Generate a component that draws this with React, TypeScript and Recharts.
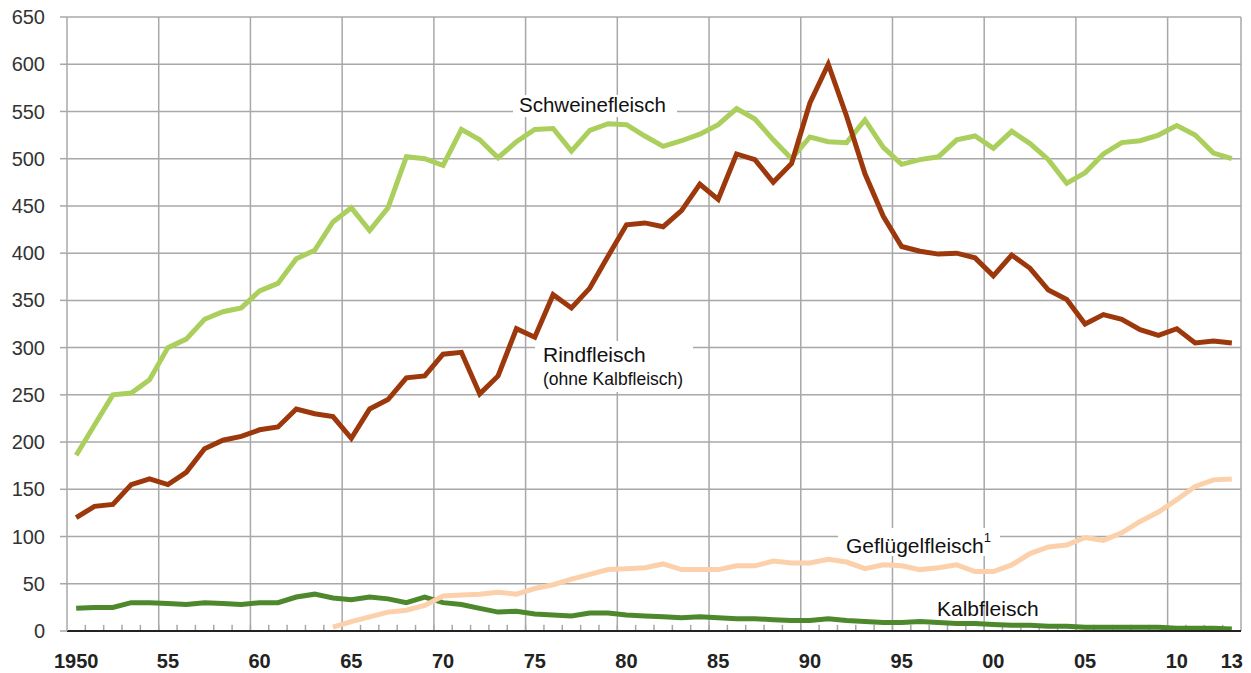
import { LineChart, Line, XAxis, YAxis, CartesianGrid, ReferenceLine } from 'recharts';

const years = [
  1950, 1951, 1952, 1953, 1954, 1955, 1956, 1957, 1958, 1959,
  1960, 1961, 1962, 1963, 1964, 1965, 1966, 1967, 1968, 1969,
  1970, 1971, 1972, 1973, 1974, 1975, 1976, 1977, 1978, 1979,
  1980, 1981, 1982, 1983, 1984, 1985, 1986, 1987, 1988, 1989,
  1990, 1991, 1992, 1993, 1994, 1995, 1996, 1997, 1998, 1999,
  2000, 2001, 2002, 2003, 2004, 2005, 2006, 2007, 2008, 2009,
  2010, 2011, 2012, 2013,
];

const schweinefleisch = [
  186, 218, 250, 252, 266, 300, 309, 330, 338, 342,
  360, 368, 394, 403, 433, 448, 424, 448, 502, 500,
  493, 531, 520, 501, 518, 531, 532, 508, 530, 537,
  536, 524, 513, 519, 526, 536, 553, 542, 520, 500,
  523, 518, 517, 541, 512, 494, 499, 502, 520, 524,
  511, 529, 516, 499, 474, 485, 505, 517, 519, 525,
  535, 525, 506, 500,
];

const rindfleisch = [
  120, 132, 134, 155, 161, 155, 168, 193, 202, 206,
  213, 216, 235, 230, 227, 204, 235, 245, 268, 270,
  293, 295, 251, 270, 320, 311, 356, 342, 363, 397,
  430, 432, 428, 445, 473, 457, 505, 499, 475, 495,
  559, 600, 545, 484, 439, 407, 402, 399, 400, 395,
  376, 398, 384, 361, 351, 325, 335, 330, 319, 313,
  320, 305, 307, 305,
];

const gefluegelfleisch = [
  null, null, null, null, null, null, null, null, null, null,
  null, null, null, null, 4, 10, 15, 20, 22, 27,
  37, 38, 39, 41, 39, 45, 49, 55, 60, 65,
  66, 67, 71, 65, 65, 65, 69, 69, 74, 72,
  72, 76, 73, 66, 70, 69, 65, 67, 70, 63,
  63, 70, 82, 89, 91, 99, 96, 104, 116, 126,
  139, 153, 160, 161,
];

const kalbfleisch = [
  24, 25, 25, 30, 30, 29, 28, 30, 29, 28,
  30, 30, 36, 39, 35, 33, 36, 34, 30, 36,
  30, 28, 24, 20, 21, 18, 17, 16, 19, 19,
  17, 16, 15, 14, 15, 14, 13, 13, 12, 11,
  11, 13, 11, 10, 9, 9, 10, 9, 8, 8,
  7, 6, 6, 5, 5, 4, 4, 4, 4, 4,
  3, 3, 3, 2,
];

const yTicks = [0, 50, 100, 150, 200, 250, 300, 350, 400, 450, 500, 550, 600, 650];
const xLabelTicks = [1950, 1955, 1960, 1965, 1970, 1975, 1980, 1985, 1990, 1995, 2000, 2005, 2010, 2013];
// senkrechte Gitterlinien liegen an den Jahresgrenzen
const gridEdges = [1954.5, 1959.5, 1964.5, 1969.5, 1974.5, 1979.5, 1984.5, 1989.5, 1994.5, 1999.5, 2004.5, 2009.5, 2013.5];
const yearEdges = years.slice(1).map((y) => y - 0.5);
const MINOR_TICK = 6.5; // Höhe der Jahresstriche in Achseneinheiten

const data = years.map((year, i) => ({
  year,
  schwein: schweinefleisch[i],
  rind: rindfleisch[i],
  gefluegel: gefluegelfleisch[i],
  kalb: kalbfleisch[i],
}));

const GRID = '#a8a8a8';
const FONT = '"Liberation Sans", Arial, Helvetica, sans-serif';

const fmtYear = (v: number) => (v === 1950 ? '1950' : String(v % 100).padStart(2, '0'));

export default function App() {
  return (
    <div style={{ position: 'absolute', left: 0, top: 0, width: 1251, height: 673, background: '#fff', fontFamily: FONT }}>
      <LineChart width={1251} height={673} data={data} margin={{ top: 17, right: 10, bottom: 0, left: 0 }}>
        <CartesianGrid vertical={false} stroke={GRID} strokeWidth={1.5} />
        <XAxis
          dataKey="year"
          type="number"
          domain={[1949.5, 2013.5]}
          ticks={xLabelTicks}
          interval={0}
          tickFormatter={fmtYear}
          height={42}
          tickLine={false}
          tickSize={0}
          tickMargin={23}
          axisLine={{ stroke: '#222', strokeWidth: 2 }}
          tick={{ fill: '#222', fontSize: 20, fontWeight: 'bold', fontFamily: FONT }}
        />
        <YAxis
          type="number"
          domain={[0, 650]}
          ticks={yTicks}
          interval={0}
          width={67}
          tickSize={7}
          tickMargin={15}
          axisLine={{ stroke: GRID, strokeWidth: 1.5 }}
          tickLine={{ stroke: GRID, strokeWidth: 1.5 }}
          tick={{ fill: '#333', fontSize: 20, fontFamily: FONT }}
        />
        {gridEdges.map((x) => (
          <ReferenceLine key={x} x={x} stroke={GRID} strokeWidth={1.5} />
        ))}
        {yearEdges.map((x) => (
          <ReferenceLine
            key={'m' + x}
            segment={[{ x, y: 0 }, { x, y: MINOR_TICK }]}
            stroke={GRID}
            strokeWidth={1.5}
          />
        ))}
        <Line dataKey="schwein" stroke="#abcf5c" strokeWidth={5} dot={false} isAnimationActive={false} />
        <Line dataKey="kalb" stroke="#4d882c" strokeWidth={5} dot={false} isAnimationActive={false} />
        <Line dataKey="gefluegel" stroke="#fcd0aa" strokeWidth={5} dot={false} isAnimationActive={false} />
        <Line dataKey="rind" stroke="#9d380c" strokeWidth={5} dot={false} isAnimationActive={false} />
      </LineChart>

      {/* Beschriftungen der Kurven */}
      <svg width={1251} height={673} style={{ position: 'absolute', left: 0, top: 0, pointerEvents: 'none' }}>
        <g fontFamily={FONT} fill="#111">
          <rect x={513} y={95} width={164} height={22} fill="#fff" />
          <text x={519} y={112} fontSize={20.5}>Schweinefleisch</text>
          <rect x={535} y={341} width={158} height={51} fill="#fff" />
          <text x={543} y={362} fontSize={21}>Rindfleisch</text>
          <text x={543} y={385} fontSize={17.5}>(ohne Kalbfleisch)</text>
          <rect x={838} y={528} width={162} height={28} fill="#fff" />
          <text x={846} y={553} fontSize={21}>
            Geflügelfleisch<tspan fontSize={13} dy={-11}>1</tspan>
          </text>
          <text x={937} y={616} fontSize={21}>Kalbfleisch</text>
        </g>
      </svg>
    </div>
  );
}
